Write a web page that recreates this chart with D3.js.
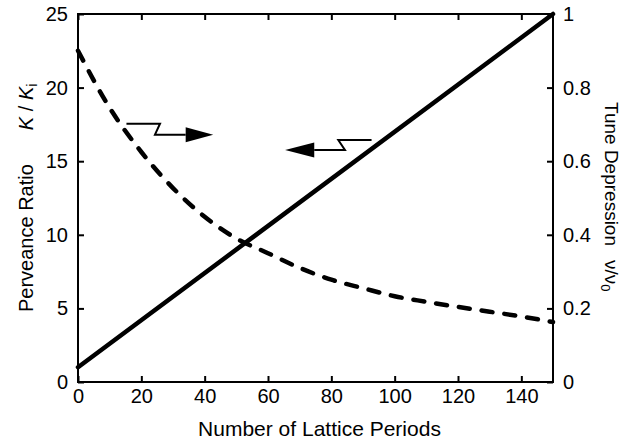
<!DOCTYPE html>
<html lang="en">
<head>
<meta charset="utf-8">
<title>Perveance ratio and tune depression</title>
<script src="https://cdn.jsdelivr.net/npm/d3@7"></script>
<style>
  body { margin: 0; background: #fff; }
  text { font-family: "Liberation Sans", Arial, sans-serif; fill: #000; }
</style>
</head>
<body>
<script>
// data
var periods = [0, 10, 20, 30, 40, 50, 60, 70, 80, 90, 100, 110, 120, 130, 140, 150];
var tuneDepression = [0.90, 0.745, 0.625, 0.527, 0.449, 0.39, 0.35, 0.31, 0.278, 0.255, 0.233, 0.218, 0.204, 0.191, 0.178, 0.163];
var perveancePeriods = [0, 150];
var perveanceRatio = [1, 25];

var xTicks = [0, 20, 40, 60, 80, 100, 120, 140];
var leftTicks = [0, 5, 10, 15, 20, 25];
var rightTicks = [0, 0.2, 0.4, 0.6, 0.8, 1];

var width = 632, height = 440;
var margin = {top: 14, right: 79, bottom: 58, left: 78};

var svg = d3.select("body").append("svg")
    .attr("width", width)
    .attr("height", height);

var x = d3.scaleLinear().domain([0, 150]).range([margin.left, width - margin.right]);
var yL = d3.scaleLinear().domain([0, 25]).range([height - margin.bottom, margin.top]);
var yR = d3.scaleLinear().domain([0, 1]).range([height - margin.bottom, margin.top]);

// axes, ticks pointing inward
function styleAxis(g) {
  g.select(".domain").remove();
  g.selectAll(".tick line").attr("stroke", "#000").attr("stroke-width", 2);
  g.selectAll(".tick text").attr("font-size", 20).attr("font-family", "Liberation Sans, Arial, sans-serif");
}

svg.append("g")
  .attr("transform", "translate(0," + yL(0) + ")")
  .call(d3.axisBottom(x).tickValues(xTicks).tickFormat(d3.format("d")).tickSizeInner(-6).tickSizeOuter(0).tickPadding(7))
  .call(styleAxis);

svg.append("g")
  .attr("transform", "translate(0," + yL(25) + ")")
  .call(d3.axisTop(x).tickValues(xTicks).tickFormat("").tickSizeInner(-6).tickSizeOuter(0))
  .call(styleAxis);

svg.append("g")
  .attr("transform", "translate(" + x(0) + ",0)")
  .call(d3.axisLeft(yL).tickValues(leftTicks).tickFormat(d3.format("d")).tickSizeInner(-6).tickSizeOuter(0).tickPadding(10))
  .call(styleAxis);

svg.append("g")
  .attr("transform", "translate(" + x(150) + ",0)")
  .call(d3.axisRight(yR).tickValues(rightTicks).tickFormat(function(d){ return d === 0 || d === 1 ? d : d3.format(".1f")(d); }).tickSizeInner(-6).tickSizeOuter(0).tickPadding(10))
  .call(styleAxis);

// frame
svg.append("rect")
  .attr("x", x(0)).attr("y", yL(25))
  .attr("width", x(150) - x(0)).attr("height", yL(0) - yL(25))
  .attr("fill", "none").attr("stroke", "#000").attr("stroke-width", 2);

// perveance ratio (solid, left axis)
var lineL = d3.line()
  .x(function(d, i){ return x(perveancePeriods[i]); })
  .y(function(d){ return yL(d); });
svg.append("path")
  .datum(perveanceRatio)
  .attr("d", lineL)
  .attr("fill", "none").attr("stroke", "#000").attr("stroke-width", 4.5)
  .attr("stroke-linecap", "round");

// tune depression (dashed, right axis)
var lineR = d3.line()
  .curve(d3.curveMonotoneX)
  .x(function(d, i){ return x(periods[i]); })
  .y(function(d){ return yR(d); });
svg.append("path")
  .datum(tuneDepression)
  .attr("d", lineR)
  .attr("fill", "none").attr("stroke", "#000").attr("stroke-width", 4.5)
  .attr("stroke-linecap", "round")
  .attr("stroke-dasharray", "11,12");

// "which axis" arrows, in data units
function arrow(startX, stepTopX, stepBotX, baseX, tipX, upperK, lowerK) {
  var pts = [[startX, upperK], [stepTopX, upperK], [stepBotX, lowerK], [baseX, lowerK]];
  svg.append("path")
    .attr("d", d3.line().x(function(d){ return x(d[0]); }).y(function(d){ return yL(d[1]); })(pts))
    .attr("fill", "none").attr("stroke", "#000").attr("stroke-width", 2);
  var h = 7.5;
  svg.append("path")
    .attr("d", "M" + x(tipX) + "," + yL(lowerK) +
               "L" + x(baseX) + "," + (yL(lowerK) - h) +
               "L" + x(baseX) + "," + (yL(lowerK) + h) + "Z")
    .attr("fill", "#000");
}
arrow(15.3, 25.9, 24.3, 34.0, 42.7, 17.55, 16.8);
arrow(92.7, 82.2, 84.3, 74.6, 65.4, 16.44, 15.76);

// axis titles
svg.append("text")
  .attr("x", (x(0) + x(150)) / 2 + 4).attr("y", 436)
  .attr("text-anchor", "middle").attr("font-size", 21)
  .text("Number of Lattice Periods");

var lt = svg.append("text")
  .attr("transform", "translate(33,312) rotate(-90)")
  .attr("text-anchor", "start").attr("font-size", 20);
lt.append("tspan").text("Perveance Ratio");
lt.append("tspan").attr("dx", 34).attr("font-style", "italic").text("K");
lt.append("tspan").text(" / ");
lt.append("tspan").attr("font-style", "italic").text("K");
lt.append("tspan").attr("font-size", 14).attr("dy", 4).text("i");

var rt = svg.append("text")
  .attr("transform", "translate(605,102) rotate(90)")
  .attr("text-anchor", "start").attr("font-size", 19);
rt.append("tspan").text("Tune Depression");
rt.append("tspan").attr("dx", 14).text("ν/ν");
rt.append("tspan").attr("font-size", 13).attr("dy", 4).text("0");
</script>
</body>
</html>
